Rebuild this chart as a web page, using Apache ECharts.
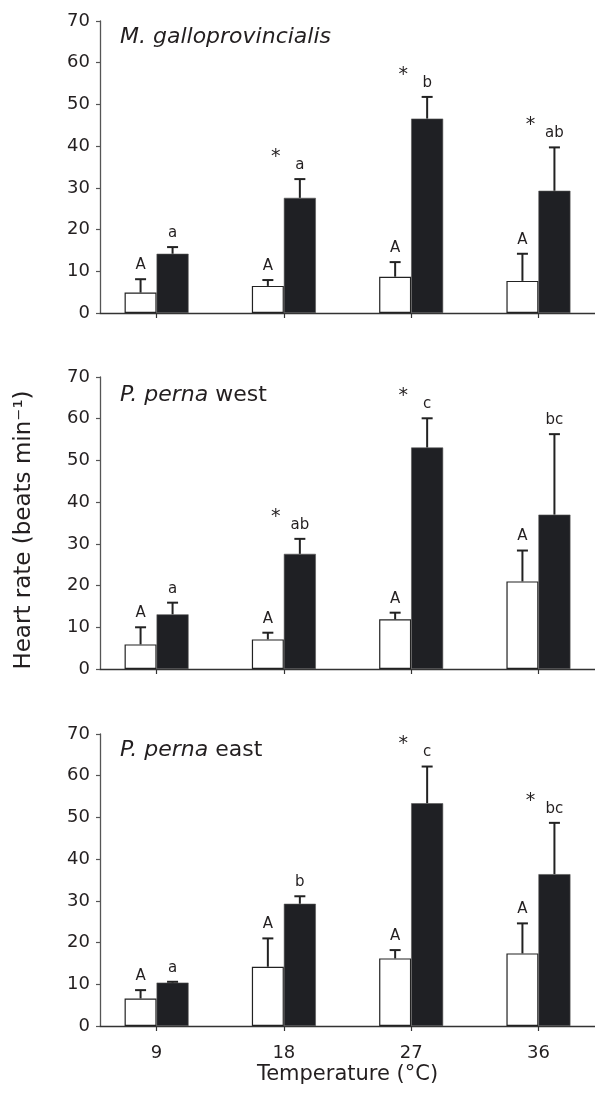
<!DOCTYPE html>
<html>
<head>
<meta charset="utf-8">
<script src="https://cdn.jsdelivr.net/npm/echarts@6/dist/echarts.min.js"></script>
<style>
  html, body { margin: 0; padding: 0; background: #fff; }
  #chart { width: 595px; height: 1100px; }
</style>
</head>
<body>
<div id="chart"></div>
<script>
// ---- data ----
const temps = [9, 18, 27, 36];
const yTicks = [0, 10, 20, 30, 40, 50, 60, 70];

const panelTitles = ['M. galloprovincialis', 'P. perna west', 'P. perna east'];

// M. galloprovincialis
const mgCtrl = [4.9, 6.5, 8.7, 7.7];
const mgCtrlSE = [3.2, 1.4, 3.5, 6.5];
const mgTreat = [14.2, 27.6, 46.6, 29.3];
const mgTreatSE = [1.6, 4.5, 5.2, 10.4];
const mgCtrlLetters = ['A', 'A', 'A', 'A'];
const mgTreatLetters = ['a', 'a', 'b', 'ab'];
const mgStars = [false, true, true, true];

// P. perna west
const pwCtrl = [5.9, 7.1, 11.9, 21.0];
const pwCtrlSE = [4.1, 1.6, 1.6, 7.4];
const pwTreat = [13.1, 27.6, 53.1, 37.0];
const pwTreatSE = [2.8, 3.6, 7.0, 19.3];
const pwCtrlLetters = ['A', 'A', 'A', 'A'];
const pwTreatLetters = ['a', 'ab', 'c', 'bc'];
const pwStars = [false, true, true, false];

// P. perna east
const peCtrl = [6.6, 14.2, 16.2, 17.4];
const peCtrlSE = [2.0, 6.8, 2.0, 7.2];
const peTreat = [10.4, 29.3, 53.4, 36.4];
const peTreatSE = [0.2, 1.8, 8.8, 12.3];
const peCtrlLetters = ['A', 'A', 'A', 'A'];
const peTreatLetters = ['a', 'b', 'c', 'bc'];
const peStars = [false, false, true, true];

// ---- styles ----
const FONT = 'DejaVu Sans';
const TXT = '#231f20';
const BLACK = '#1f2024';
const BAR_W = 32;

const panels = [
  {ctrl: mgCtrl, ctrlSE: mgCtrlSE, treat: mgTreat, treatSE: mgTreatSE, cl: mgCtrlLetters, tl: mgTreatLetters, stars: mgStars},
  {ctrl: pwCtrl, ctrlSE: pwCtrlSE, treat: pwTreat, treatSE: pwTreatSE, cl: pwCtrlLetters, tl: pwTreatLetters, stars: pwStars},
  {ctrl: peCtrl, ctrlSE: peCtrlSE, treat: peTreat, treatSE: peTreatSE, cl: peCtrlLetters, tl: peTreatLetters, stars: peStars}
];
const gridTops = [21, 377, 734];
const gridH = 292;

const grid = [], xAxis = [], yAxis = [], series = [], title = [];

panels.forEach((p, i) => {
  grid.push({left: 100, right: 0, top: gridTops[i], height: gridH});
  const last = i === panels.length - 1;
  xAxis.push({
    type: 'value', gridIndex: i, min: 5, max: 40,
    splitLine: {show: false},
    axisLine: {show: true, onZero: false, lineStyle: {color: '#333', width: 1.3}},
    axisTick: {show: true, inside: false, length: 5, customValues: temps, lineStyle: {color: '#333', width: 1.2}},
    axisLabel: {show: last, customValues: temps, margin: 18, fontFamily: FONT, fontSize: 18, color: TXT},
    name: last ? 'Temperature (°C)' : '',
    nameLocation: 'middle', nameGap: 38,
    nameTextStyle: {fontFamily: FONT, fontSize: 21, color: TXT}
  });
  yAxis.push({
    type: 'value', gridIndex: i, min: 0, max: 70, interval: 10,
    splitLine: {show: false},
    axisLine: {show: true, lineStyle: {color: '#555', width: 1.3}},
    axisTick: {show: true, inside: false, length: 4, lineStyle: {color: '#555', width: 1.2}},
    axisLabel: {margin: 10, fontFamily: FONT, fontSize: 18, color: TXT,
      formatter: v => (yTicks.indexOf(v) >= 0 ? String(v) : '')},
    name: i === 1 ? 'Heart rate (beats min⁻¹)' : '',
    nameLocation: 'middle', nameGap: 64,
    nameTextStyle: {fontFamily: FONT, fontSize: 23, color: TXT, padding: [0, 14, 0, 0]}
  });

  series.push({
    type: 'bar', xAxisIndex: i, yAxisIndex: i, barWidth: BAR_W, barGap: '0%',
    data: temps.map((t, k) => [t, p.ctrl[k]]),
    itemStyle: {color: '#ffffff', borderColor: '#222', borderWidth: 1.2},
    emphasis: {disabled: true}, animation: false
  });
  series.push({
    type: 'bar', xAxisIndex: i, yAxisIndex: i, barWidth: BAR_W, barGap: '0%',
    data: temps.map((t, k) => [t, p.treat[k]]),
    itemStyle: {color: BLACK, borderColor: '#555', borderWidth: 0.6},
    emphasis: {disabled: true}, animation: false
  });

  // error bars + letters + asterisks
  const errData = [];
  temps.forEach((t, k) => {
    errData.push([t, p.ctrl[k], p.ctrl[k] + p.ctrlSE[k], 0, k]);
    errData.push([t, p.treat[k], p.treat[k] + p.treatSE[k], 1, k]);
  });
  series.push({
    type: 'custom', xAxisIndex: i, yAxisIndex: i, animation: false, clip: false, z: 5,
    data: errData,
    renderItem: (params, api) => {
      const t = api.value(0), mean = api.value(1), top = api.value(2), side = api.value(3), k = api.value(4);
      const pm = api.coord([t, mean]);
      const pt = api.coord([t, top]);
      const cx = pm[0] + (side === 0 ? -BAR_W / 2 : BAR_W / 2);
      const children = [
        {type: 'line', shape: {x1: cx, y1: pm[1], x2: cx, y2: pt[1]}, style: {stroke: '#222', lineWidth: 2}},
        {type: 'line', shape: {x1: cx - 5.5, y1: pt[1], x2: cx + 5.5, y2: pt[1]}, style: {stroke: '#222', lineWidth: 2}},
        {type: 'text', style: {text: side === 0 ? p.cl[k] : p.tl[k], x: cx, y: pt[1] - 14,
          align: 'center', verticalAlign: 'middle', fontFamily: FONT, fontSize: 15, fill: TXT}}
      ];
      if (side === 1 && p.stars[k]) {
        children.push({type: 'text', style: {text: '*', x: cx - 24, y: pt[1] - 22,
          align: 'center', verticalAlign: 'middle', fontFamily: FONT, fontSize: 19, fill: TXT}});
      }
      return {type: 'group', children};
    }
  });
});

title.push({text: 'M. galloprovincialis', left: 115, top: 21,
  textStyle: {fontFamily: FONT, fontSize: 22, fontStyle: 'italic', fontWeight: 'normal', color: TXT}});
title.push({text: '{i|P. perna} west', left: 115, top: 379,
  textStyle: {fontFamily: FONT, fontSize: 22, fontWeight: 'normal', color: TXT,
    rich: {i: {fontFamily: FONT, fontSize: 22, fontStyle: 'italic', color: TXT}}}});
title.push({text: '{i|P. perna} east', left: 115, top: 734,
  textStyle: {fontFamily: FONT, fontSize: 22, fontWeight: 'normal', color: TXT,
    rich: {i: {fontFamily: FONT, fontSize: 22, fontStyle: 'italic', color: TXT}}}});

const chart = echarts.init(document.getElementById('chart'), null, {renderer: 'canvas'});
chart.setOption({backgroundColor: '#ffffff', animation: false, title, grid, xAxis, yAxis, series});
</script>
</body>
</html>
